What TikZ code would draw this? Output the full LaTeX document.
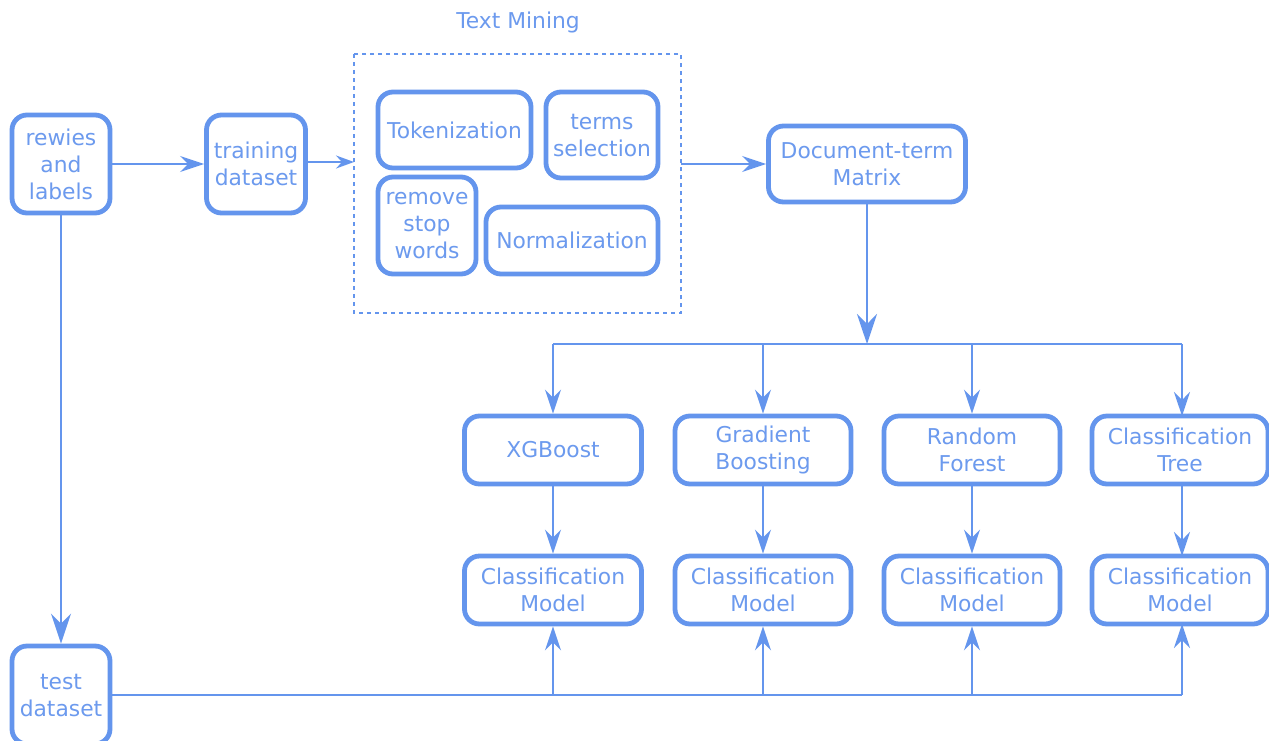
\documentclass[tikz,border=0pt]{standalone}
\usepackage{fontspec}
\setmainfont{DejaVu Sans}
\usetikzlibrary{arrows.meta}
\definecolor{cb}{HTML}{6495ED}
\definecolor{ct}{HTML}{6C9AEE}
\begin{document}
\begin{tikzpicture}[x=1pt,y=-1pt,
  box/.style={draw=cb, line width=4.8pt, rounded corners=15pt, fill=white,
    text=ct, align=center, font=\fontsize{21.8}{27}\selectfont, inner sep=0pt},
  conn/.style={draw=cb, line width=2pt},
  arr/.style={conn, -{Stealth[length=24pt,width=16pt,inset=8pt]}},
  barr/.style={conn, -{Stealth[length=30pt,width=20pt,inset=10pt]}},
  sarr/.style={conn, -{Stealth[length=18pt,width=13pt,inset=6pt]}},
]
\useasboundingbox (0,0) rectangle (1269,740);
\fill[white] (0,0) rectangle (1269,740);

% dashed container
\draw[cb, line width=2.2pt, dash pattern=on 4pt off 4pt] (354,54) rectangle (681,313);
\node[text=ct, font=\fontsize{21.8}{27}\selectfont] (tm) at (518,22) {Text Mining};
\coordinate (tmw) at (354,162);
\coordinate (tme) at (681,164);

\node[box, minimum width=98pt, minimum height=98pt] (rl) at (61,164) {rewies\\and\\labels};
\node[box, minimum width=99pt, minimum height=98pt] (td) at (256,164) {training\\dataset};
\node[box, minimum width=153pt, minimum height=76pt] (tok) at (454.5,130) {Tokenization};
\node[box, minimum width=112pt, minimum height=86pt] (ts) at (602,135) {terms\\selection};
\node[box, minimum width=98pt, minimum height=97pt] (rsw) at (427,225.5) {remove\\stop\\words};
\node[box, minimum width=172pt, minimum height=67pt] (nrm) at (572,240.5) {Normalization};
\node[box, minimum width=197pt, minimum height=76pt] (dtm) at (867,164) {Document-term\\Matrix};

\node[box, minimum width=177pt, minimum height=68pt] (xg) at (553,450) {XGBoost};
\node[box, minimum width=176pt, minimum height=68pt] (gb) at (763,450) {Gradient\\Boosting};
\node[box, minimum width=176pt, minimum height=68pt] (rf) at (972,450) {Random\\Forest};
\node[box, minimum width=176pt, minimum height=68pt] (ctr) at (1180,450) {Classification\\Tree};

\node[box, minimum width=177pt, minimum height=68pt] (m1) at (553,590) {Classification\\Model};
\node[box, minimum width=176pt, minimum height=68pt] (m2) at (763,590) {Classification\\Model};
\node[box, minimum width=176pt, minimum height=68pt] (m3) at (972,590) {Classification\\Model};
\node[box, minimum width=176pt, minimum height=68pt] (m4) at (1180,590) {Classification\\Model};

\node[box, minimum width=98pt, minimum height=98pt] (tst) at (61,695) {test\\dataset};

% connectors
\draw[arr] (rl.east) -- (td.west);
\draw[sarr] (td.east |- tmw) -- (tmw);
\draw[arr] (tme) -- (dtm.west);
\draw[barr] (rl.south) -- (tst.north);

\coordinate (bl) at (553,344);
\coordinate (br) at (1182,344);
\draw[barr] (dtm.south) -- (dtm.south |- bl);
\draw[conn] (bl) -- (br);
\draw[arr] (bl) -- (xg.north);
\draw[arr] (763,344) -- (gb.north);
\draw[arr] (972,344) -- (rf.north);
\draw[arr] (br) -- (1182,416);

\draw[arr] (xg.south) -- (m1.north);
\draw[arr] (gb.south) -- (m2.north);
\draw[arr] (rf.south) -- (m3.north);
\draw[arr] (1182,484) -- (1182,556);

\coordinate (tr) at (1182,695);
\draw[conn] (tst.east) -- (tr);
\draw[arr] (tst.east -| m1.south) -- (m1.south);
\draw[arr] (tst.east -| m2.south) -- (m2.south);
\draw[arr] (tst.east -| m3.south) -- (m3.south);
\draw[arr] (tr) -- (1182,624);
\end{tikzpicture}
\end{document}
